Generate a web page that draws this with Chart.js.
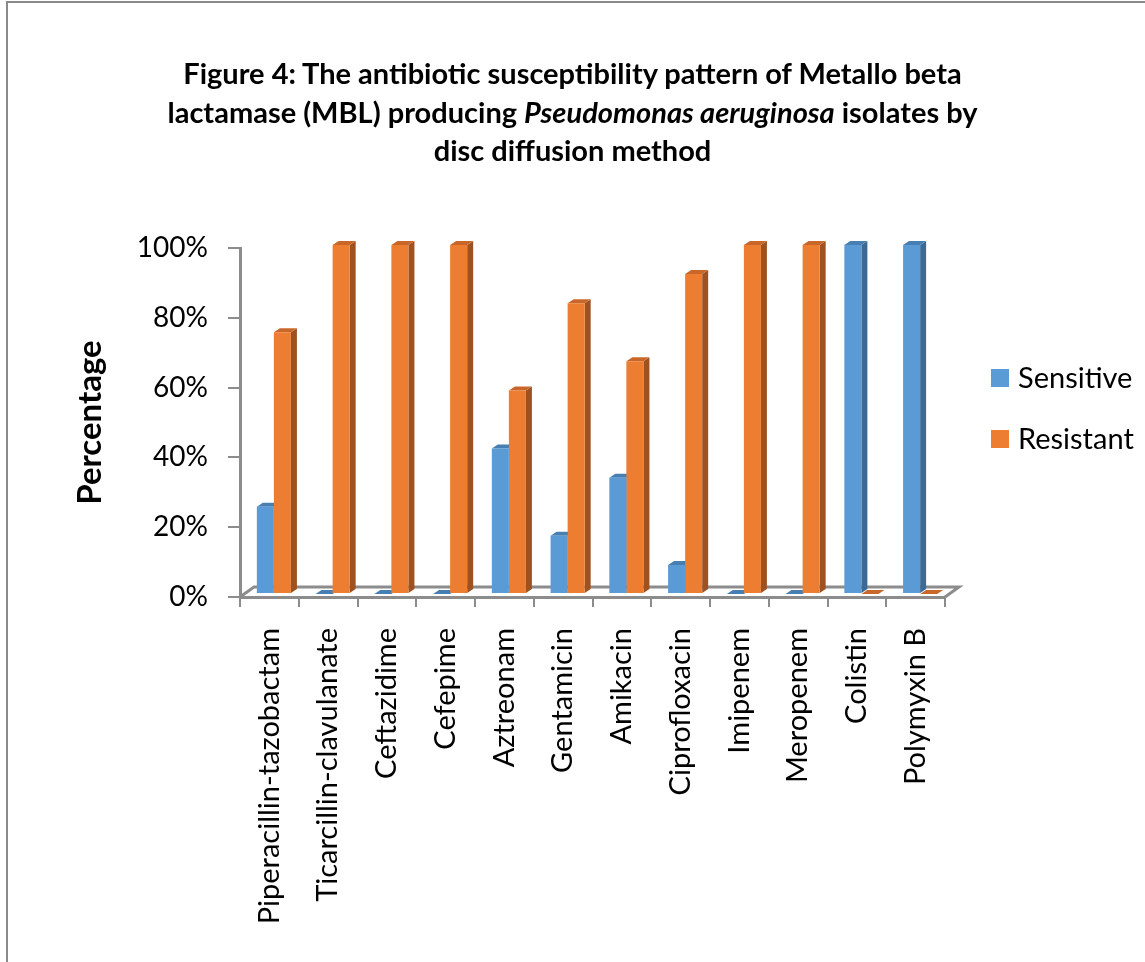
<!DOCTYPE html>
<html>
<head>
<meta charset="utf-8">
<script src="https://cdn.jsdelivr.net/npm/chart.js@4.4.1/dist/chart.umd.min.js"></script>
<style>
  html, body { margin: 0; padding: 0; background: #fff; overflow: hidden; }
  #frame { position: absolute; left: 6px; top: 1px; width: 1300px; height: 1100px; border: 2px solid #8a8a8a; }
  #wrap { position: absolute; left: 0; top: 0; width: 1145px; height: 962px; }
  #title { position: absolute; left: 0; top: 54px; width: 1145px; text-align: center;
           font: bold 29px Lato, sans-serif; line-height: 38.5px; color: #000; }
</style>
</head>
<body>
<div id="frame"></div>
<div id="wrap"><canvas id="chart"></canvas></div>
<div id="title">Figure 4: The antibiotic susceptibility pattern of Metallo beta<br>lactamase (MBL) producing <i>Pseudomonas aeruginosa</i> isolates by<br>disc diffusion method</div>
<script>
/* data */
const antibiotics = ['Piperacillin-tazobactam', 'Ticarcillin-clavulanate', 'Ceftazidime', 'Cefepime',
  'Aztreonam', 'Gentamicin', 'Amikacin', 'Ciprofloxacin', 'Imipenem', 'Meropenem', 'Colistin', 'Polymyxin B'];
const sensitive = [25, 0, 0, 0, 41.7, 16.7, 33.3, 8.3, 0, 0, 100, 100];
const resistant = [75, 100, 100, 100, 58.3, 83.3, 66.7, 91.7, 100, 100, 0, 0];
const yTicks = [0, 20, 40, 60, 80, 100];

/* colours: front, top, side */
const faces = [
  { front: '#5b9bd5', top: '#477fb2', side: '#3c6a94' },
  { front: '#ed7d31', top: '#c9672a', side: '#9e5222' }
];
const axisGrey = '#8c8c8c';

// bar depth and floor depth (px)
const barDepth = { dx: 6, dy: 4 };
const floorDepth = { dx: 14, dy: 10 };

function poly(ctx, pts, color) {
  ctx.beginPath();
  ctx.moveTo(pts[0][0], pts[0][1]);
  for (let i = 1; i < pts.length; i++) ctx.lineTo(pts[i][0], pts[i][1]);
  ctx.closePath();
  ctx.fillStyle = color;
  ctx.fill();
}

/* fake 3D: floor + top/side faces, front rects stay Chart.js bars */
const pseudo3d = {
  id: 'pseudo3d',
  beforeDatasetsDraw(chart) {
    const { ctx, chartArea: a } = chart;
    ctx.save();
    ctx.strokeStyle = axisGrey;
    ctx.lineWidth = 3;
    ctx.beginPath();
    ctx.moveTo(a.left, a.bottom);
    ctx.lineTo(a.left + floorDepth.dx, a.bottom - floorDepth.dy);
    ctx.lineTo(a.right + floorDepth.dx, a.bottom - floorDepth.dy);
    ctx.lineTo(a.right, a.bottom);
    ctx.stroke();

    ctx.translate(4.5, -3);
    chart.data.datasets.forEach((ds, di) => {
      const f = faces[di];
      chart.getDatasetMeta(di).data.forEach(bar => {
        const { x, y, base, width } = bar.getProps(['x', 'y', 'base', 'width'], true);
        const l = x - width / 2, r = x + width / 2;
        const { dx, dy } = barDepth;
        poly(ctx, [[r, y], [r + dx, y - dy], [r + dx, base - dy], [r, base]], f.side);
        poly(ctx, [[l, y], [r, y], [r + dx, y - dy], [l + dx, y - dy]], f.top);
      });
    });
  },
  afterDatasetsDraw(chart) {
    chart.ctx.restore();
  },
  afterDraw(chart) {
    const { ctx, chartArea: a } = chart;
    ctx.save();
    ctx.font = '29px Lato, sans-serif';
    ctx.textBaseline = 'middle';
    ctx.textAlign = 'left';
    chart.data.datasets.forEach((ds, i) => {
      const cy = a.top + 130 + i * 61;
      const bx = a.right + 46;
      ctx.fillStyle = ds.backgroundColor;
      ctx.fillRect(bx, cy - 9, 18, 18);
      ctx.fillStyle = '#000';
      ctx.fillText(ds.label, bx + 27, cy + 1);
    });
    ctx.restore();
  }
};

new Chart(document.getElementById('chart'), {
  type: 'bar',
  data: {
    labels: antibiotics,
    datasets: [
      { label: 'Sensitive', data: sensitive, backgroundColor: faces[0].front },
      { label: 'Resistant', data: resistant, backgroundColor: faces[1].front }
    ]
  },
  options: {
    responsive: true,
    maintainAspectRatio: false,
    animation: false,
    layout: { padding: { top: 248, left: 71, right: 200, bottom: 0 } },
    datasets: { bar: { categoryPercentage: 0.58, barPercentage: 1.0 } },
    plugins: { legend: { display: false }, tooltip: { enabled: false } },
    scales: {
      x: {
        grid: { display: true, drawOnChartArea: false, drawTicks: true, tickLength: 10, color: axisGrey, lineWidth: 2 },
        border: { display: true, color: axisGrey, width: 3 },
        ticks: {
          autoSkip: false, maxRotation: 90, minRotation: 90, padding: 21,
          color: '#000', font: { family: 'Lato, sans-serif', size: 29 }
        },
        afterFit(s) { s.height = 962 - 597; }
      },
      y: {
        min: 0, max: 100,
        afterBuildTicks(s) { s.ticks = yTicks.map(v => ({ value: v })); },
        grid: { display: true, drawOnChartArea: false, drawTicks: true, tickLength: 12, color: axisGrey, lineWidth: 2 },
        border: { display: true, color: axisGrey, width: 3 },
        ticks: {
          padding: 20, color: '#000',
          font: { family: 'Lato, sans-serif', size: 28 },
          callback: v => v + '%'
        },
        title: {
          display: true, text: 'Percentage', color: '#000', padding: 0,
          font: { family: 'Lato, sans-serif', size: 33, weight: 'bold' }
        },
        afterFit(s) { s.width = 240 - 71; }
      }
    }
  },
  plugins: [pseudo3d]
});
</script>
</body>
</html>
